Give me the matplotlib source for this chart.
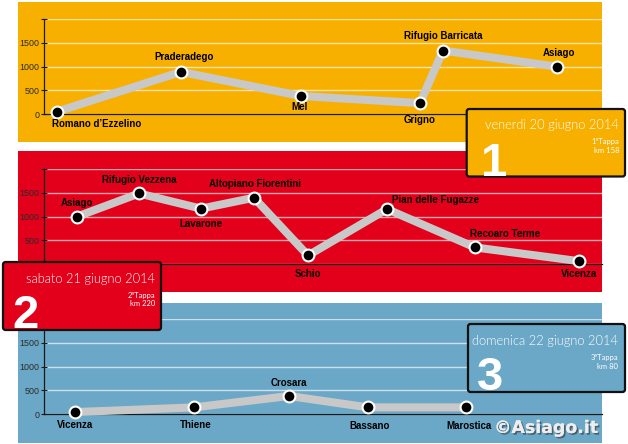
import matplotlib
matplotlib.use('Agg')
import matplotlib.pyplot as plt
from matplotlib.patches import Rectangle, FancyBboxPatch
import matplotlib.patheffects as pe

# --- Dati delle tre tappe ---
# posizione = progressiva lungo il percorso (unità del grafico), quota in metri
tappa1_luoghi = ['Romano d\u2019Ezzelino', 'Praderadego', 'Mel', 'Grigno', 'Rifugio Barricata', 'Asiago']
tappa1_pos = [13, 137, 257, 376, 399, 513]
tappa1_quota = [50, 890, 380, 230, 1340, 1000]

tappa2_luoghi = ['Asiago', 'Rifugio Vezzena', 'Lavarone', 'Altopiano Fiorentini', 'Schio',
                 'Pian delle Fugazze', 'Recoaro Terme', 'Vicenza']
tappa2_pos = [33, 95, 157, 210, 264, 343, 431, 535]
tappa2_quota = [1000, 1490, 1170, 1400, 180, 1160, 350, 60]

tappa3_luoghi = ['Vicenza', 'Thiene', 'Crosara', 'Bassano', 'Marostica']
tappa3_pos = [31, 150, 245, 324, 422]
tappa3_quota = [40, 140, 380, 140, 140]

date = ['venerdì 20 giugno 2014', 'sabato 21 giugno 2014', 'domenica 22 giugno 2014']
numeri = ['1', '2', '3']
tappe_txt = ['1\u00aaTappa', '2\u00aaTappa', '3\u00aaTappa']
km = ['km 158', 'km 220', 'km 80']

yticks = [0, 500, 1000, 1500, 2000]
ytick_labels = ['0', '500', '1000', '1500', '']
# --------------------

ARANCIO = '#F8B000'
ROSSO = '#E2001A'
AZZURRO = '#6BA7C6'
GRIGIO = '#C8C8C8'

W, H = 628, 444
fig = plt.figure(figsize=(W / 100, H / 100), dpi=100)
fig.patch.set_facecolor('white')

# asse di sfondo in pixel (sotto a tutto) e asse sopra (riquadri)
fondo = fig.add_axes([0, 0, 1, 1], zorder=-5)
fondo.set_xlim(0, W)
fondo.set_ylim(H, 0)
fondo.axis('off')

sopra = fig.add_axes([0, 0, 1, 1], zorder=10)
sopra.set_xlim(0, W)
sopra.set_ylim(H, 0)
sopra.axis('off')
sopra.patch.set_alpha(0)

pannelli = [
    # colore, rettangolo sfondo (x0, y0, x1, y1), y pixel dello zero
    (ARANCIO, (17.5, 2, 602, 142), 114),
    (ROSSO, (18, 151, 602, 292), 264),
    (AZZURRO, (18, 303, 602, 443), 414),
]

serie = [
    (tappa1_luoghi, tappa1_pos, tappa1_quota),
    (tappa2_luoghi, tappa2_pos, tappa2_quota),
    (tappa3_luoghi, tappa3_pos, tappa3_quota),
]

# offset delle etichette (punti) e allineamento
etichette = [
    [(-3.6, -9.1, 'left'), (2, 10.8, 'center'), (-0.7, -7.7, 'center'),
     (0, -12, 'center'), (0, 10.6, 'center'), (1.4, 10, 'center')],
    [(0, 9.8, 'center'), (0, 10, 'center'), (0, -11, 'center'), (0.5, 9.9, 'center'),
     (0, -13, 'center'), (3.6, 6.8, 'left'), (-3.4, 10, 'left'), (0, -9.1, 'center')],
    [(0, -9.1, 'center'), (1.4, -12.7, 'center'), (0, 9.6, 'center'),
     (1.2, -13.2, 'center'), (2.4, -13.2, 'center')],
]

PX500 = 23.67  # pixel per 500 m
for (colore, (x0, y0, x1, y1), yzero), (luoghi, pos, quota), offs in zip(pannelli, serie, etichette):
    fondo.add_patch(Rectangle((x0, y0), x1 - x0, y1 - y0, facecolor=colore, edgecolor='none'))
    ytop = yzero - 4 * PX500
    ax = fig.add_axes([44 / W, 1 - yzero / H, 558 / W, (yzero - ytop) / H])
    ax.patch.set_alpha(0)
    ax.set_xlim(0, 558)
    ax.set_ylim(0, 2000)
    for s in ['top', 'right']:
        ax.spines[s].set_visible(False)
    for s in ['left', 'bottom']:
        ax.spines[s].set_color('#1a1a1a')
        ax.spines[s].set_linewidth(0.9)
    ax.set_xticks([])
    ax.set_yticks(yticks)
    ax.set_yticklabels(ytick_labels)
    ax.tick_params(axis='y', direction='inout', length=4, width=0.8, color='#1a1a1a',
                   labelsize=6.4, labelcolor='#2a2a2a', pad=1.2)
    for lab in ax.get_yticklabels():
        lab.set_family('Liberation Sans')
    ax.yaxis.grid(True, color='white', alpha=0.65, lw=1.0)
    ax.set_axisbelow(True)

    ax.plot(pos, quota, color=GRIGIO, lw=5.8, solid_joinstyle='miter', zorder=3, clip_on=False)
    ax.plot(pos, quota, 'o', color='black', ms=8.5, mec='white', mew=1.5, zorder=4, clip_on=False)
    for nome, x, y, (dx, dy, ha) in zip(luoghi, pos, quota, offs):
        ax.annotate(nome, (x, y), xytext=(dx, dy), textcoords='offset points',
                    ha=ha, va='center', fontsize=7, fontweight='bold',
                    family='Liberation Sans', color='black', zorder=5, annotation_clip=False)

# riquadri con data e numero della tappa
riquadri = [
    (ARANCIO, (466.7, 109, 625, 176.5), 619, (125, 141.7, 150), (481, 176)),
    (ROSSO, (3, 262, 161, 330), 155, (279, 295, 303.3), (12, 327.7)),
    (AZZURRO, (468, 324, 625, 392), 618, (341, 357.3, 366), (477, 389.5)),
]
for (colore, (x0, y0, x1, y1), xr, (yd, yt, yk), (xn, yn)), d, n, t, k in zip(
        riquadri, date, numeri, tappe_txt, km):
    sopra.add_patch(FancyBboxPatch((x0, y0), x1 - x0, y1 - y0,
                                   boxstyle='round,pad=0,rounding_size=2.5',
                                   facecolor=colore, edgecolor='#111111', lw=1.6))
    sopra.text(xr, yd, d, ha='right', va='center', color='white', fontsize=9.3,
               family='Lato', fontweight=300)
    sopra.text(xr, yt, t, ha='right', va='center', color='white', fontsize=5.5, family='Lato')
    sopra.text(xr, yk, k, ha='right', va='center', color='white', fontsize=5.5, family='Lato')
    sopra.text(xn, yn, n, ha='left', va='baseline', color='white', fontsize=34,
               fontweight='bold', family='Liberation Sans')

# marchio
sopra.text(598, 433, '\u00a9Asiago.it', ha='right', va='baseline', fontsize=12.5, fontweight='bold',
           family='DejaVu Sans', color='#eeeeee',
           path_effects=[pe.withSimplePatchShadow(offset=(1.2, -1.2), shadow_rgbFace='#333333', alpha=0.6),
                         pe.Normal()])

fig.savefig('out.png', dpi=100)
